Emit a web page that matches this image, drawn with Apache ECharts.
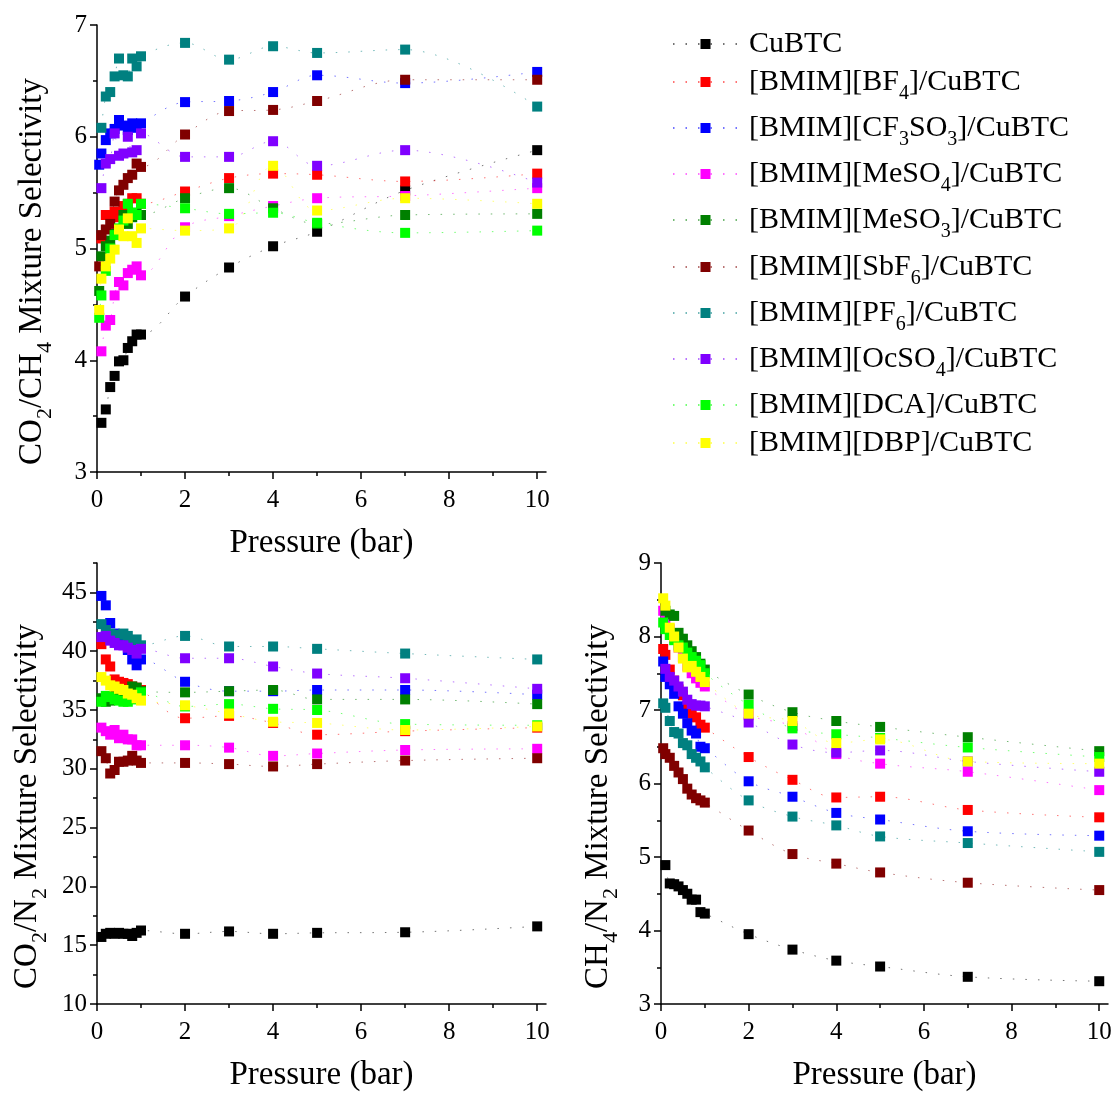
<!DOCTYPE html>
<html><head><meta charset="utf-8">
<script src="https://cdn.jsdelivr.net/npm/echarts@6/dist/echarts.min.js"></script>
<style>html,body{margin:0;padding:0;background:#fff}#c{width:1115px;height:1093px}</style>
</head><body><div id="c"></div><script>
// ---------------- DATA ----------------
const pressure = [0.05, 0.1, 0.2, 0.3, 0.4, 0.5, 0.6, 0.7, 0.8, 0.9, 1, 2, 3, 4, 5, 7, 10];
const seriesNames = ['CuBTC', '[BMIM][BF4]/CuBTC', '[BMIM][CF3SO3]/CuBTC', '[BMIM][MeSO4]/CuBTC', '[BMIM][MeSO3]/CuBTC',
  '[BMIM][SbF6]/CuBTC', '[BMIM][PF6]/CuBTC', '[BMIM][OcSO4]/CuBTC', '[BMIM][DCA]/CuBTC', '[BMIM][DBP]/CuBTC'];
const legendLabels = ['CuBTC', '[BMIM][BF{s|4}]/CuBTC', '[BMIM][CF{s|3}SO{s|3}]/CuBTC', '[BMIM][MeSO{s|4}]/CuBTC', '[BMIM][MeSO{s|3}]/CuBTC',
  '[BMIM][SbF{s|6}]/CuBTC', '[BMIM][PF{s|6}]/CuBTC', '[BMIM][OcSO{s|4}]/CuBTC', '[BMIM][DCA]/CuBTC', '[BMIM][DBP]/CuBTC'];

// CO2/CH4 selectivity
const co2ch4_CuBTC  = [null, 3.44, 3.56, 3.76, 3.86, 3.99, 4.00, 4.11, 4.17, 4.23, 4.23, 4.57, 4.83, 5.02, 5.15, 5.52, 5.88];
const co2ch4_BF4    = [null, 5.09, 5.30, 5.30, 5.33, 5.28, 5.38, 5.40, 5.45, 5.45, 5.40, 5.51, 5.63, 5.67, 5.66, 5.60, 5.67];
const co2ch4_CF3SO3 = [5.75, 5.85, 5.97, 6.03, 6.07, 6.15, 6.10, 6.06, 6.12, 6.08, 6.12, 6.31, 6.32, 6.40, 6.55, 6.48, 6.58];
const co2ch4_MeSO4  = [null, 4.08, 4.31, 4.36, 4.58, 4.70, 4.67, 4.78, 4.81, 4.84, 4.76, 5.19, 5.29, 5.38, 5.45, 5.47, 5.54];
const co2ch4_MeSO3  = [4.62, 4.93, 5.02, 5.07, 5.13, 5.17, 5.30, 5.22, 5.28, 5.32, 5.30, 5.45, 5.54, 5.36, 5.22, 5.30, 5.31];
const co2ch4_SbF6   = [4.84, 5.12, 5.17, 5.22, 5.42, 5.52, 5.57, 5.63, 5.66, 5.76, 5.73, 6.02, 6.23, 6.24, 6.32, 6.51, 6.51];
const co2ch4_PF6    = [null, 6.08, 6.36, 6.40, 6.54, 6.70, 6.55, 6.54, 6.70, 6.63, 6.72, 6.84, 6.69, 6.81, 6.75, 6.78, 6.27];
const co2ch4_OcSO4  = [null, 5.54, 5.76, 5.80, 6.03, 5.83, 5.85, 6.00, 5.86, 5.88, 6.03, 5.82, 5.82, 5.96, 5.74, 5.88, 5.59];
const co2ch4_DCA    = [4.38, 4.58, 4.80, 5.00, 5.12, 5.18, 5.25, 5.40, 5.32, 5.30, 5.40, 5.36, 5.31, 5.32, 5.23, 5.14, 5.16];
const co2ch4_DBP    = [4.45, 4.73, 4.84, 4.91, 4.99, 5.17, 5.11, 5.27, 5.11, 5.05, 5.18, 5.16, 5.18, 5.74, 5.34, 5.45, 5.40];

// CO2/N2 selectivity
const co2n2_CuBTC  = [null, 15.70, 15.97, 16.05, 15.97, 16.05, 15.97, 15.97, 15.78, 16.05, 16.25, 15.97, 16.17, 15.97, 16.05, 16.10, 16.60];
const co2n2_BF4    = [null, 40.6, 39.3, 38.7, 37.6, 37.4, 37.3, 37.2, 37.0, 36.9, 36.7, 34.3, 34.5, 33.9, 32.9, 33.2, 33.5];
const co2n2_CF3SO3 = [null, 44.7, 43.9, 42.4, 41.5, 41.0, 40.6, 40.1, 39.3, 38.8, 39.3, 37.4, 36.6, 36.6, 36.7, 36.7, 36.3];
const co2n2_MeSO4  = [null, 33.5, 33.2, 32.9, 33.3, 32.6, 32.9, 32.5, 32.5, 32.0, 32.0, 32.0, 31.8, 31.1, 31.3, 31.6, 31.7];
const co2n2_MeSO3  = [null, 36.0, 35.7, 35.8, 36.2, 36.3, 36.5, 36.7, 37.0, 36.9, 36.6, 36.5, 36.6, 36.7, 35.9, 35.9, 35.5];
const co2n2_SbF6   = [null, 31.5, 30.9, 29.6, 29.9, 30.6, 30.6, 30.7, 31.1, 30.7, 30.5, 30.5, 30.4, 30.2, 30.4, 30.7, 30.9];
const co2n2_PF6    = [null, 42.3, 41.8, 41.5, 41.3, 41.4, 41.5, 41.3, 40.9, 41.0, 40.5, 41.3, 40.4, 40.4, 40.2, 39.8, 39.3];
const co2n2_OcSO4  = [null, 41.2, 41.3, 40.9, 40.7, 40.5, 40.5, 40.3, 40.1, 39.8, 40.2, 39.4, 39.4, 38.7, 38.1, 37.7, 36.8];
const co2n2_DCA    = [null, 35.7, 36.2, 36.1, 35.9, 35.8, 35.7, 35.7, 35.9, 36.2, 36.5, 35.3, 35.5, 35.1, 35.0, 33.8, 33.7];
const co2n2_DBP    = [null, 37.8, 37.5, 37.1, 37.0, 36.8, 36.7, 36.4, 36.3, 36.0, 35.8, 35.4, 34.7, 34.0, 33.9, 33.3, 33.6];

// CH4/N2 selectivity
const ch4n2_CuBTC  = [null, 4.89, 4.64, 4.63, 4.60, 4.55, 4.50, 4.42, 4.42, 4.25, 4.23, 3.95, 3.74, 3.59, 3.51, 3.37, 3.31];
const ch4n2_BF4    = [7.83, 7.75, 7.55, 7.40, 7.28, 7.20, 7.05, 6.95, 6.90, 6.80, 6.76, 6.36, 6.05, 5.81, 5.82, 5.64, 5.54];
const ch4n2_CF3SO3 = [7.66, 7.45, 7.35, 7.22, 7.05, 6.95, 6.82, 6.72, 6.68, 6.50, 6.48, 6.03, 5.82, 5.60, 5.51, 5.35, 5.29];
const ch4n2_MeSO4  = [8.35, 8.22, 8.10, 7.98, 7.85, 7.72, 7.60, 7.50, 7.43, 7.37, 7.32, 6.93, 6.78, 6.40, 6.27, 6.16, 5.91];
const ch4n2_MeSO3  = [null, 8.35, 8.30, 8.28, 8.05, 7.97, 7.88, 7.80, 7.72, 7.63, 7.55, 7.21, 6.97, 6.85, 6.77, 6.63, 6.44];
const ch4n2_SbF6   = [6.48, 6.40, 6.35, 6.24, 6.15, 6.06, 5.93, 5.85, 5.80, 5.77, 5.74, 5.36, 5.04, 4.91, 4.79, 4.65, 4.55];
const ch4n2_PF6    = [7.09, 7.03, 6.85, 6.70, 6.68, 6.55, 6.52, 6.40, 6.35, 6.30, 6.22, 5.77, 5.55, 5.43, 5.28, 5.19, 5.07];
const ch4n2_OcSO4  = [null, 7.56, 7.45, 7.40, 7.32, 7.25, 7.14, 7.08, 7.06, 7.06, 7.05, 6.83, 6.53, 6.42, 6.45, 6.30, 6.16];
const ch4n2_DCA    = [8.19, 8.10, 8.02, 7.95, 7.88, 7.85, 7.78, 7.72, 7.67, 7.61, 7.50, 7.07, 6.75, 6.67, 6.62, 6.49, 6.36];
const ch4n2_DBP    = [8.52, 8.42, 8.12, 8.00, 7.85, 7.70, 7.58, 7.60, 7.52, 7.45, 7.38, 6.95, 6.85, 6.55, 6.60, 6.30, 6.27];

// tick labels
const xMajorTicks = [0, 2, 4, 6, 8, 10];
const xMinorTicks = [1, 3, 5, 7, 9];
const yMajor_co2ch4 = [3, 4, 5, 6, 7];
const yMinor_co2ch4 = [3.5, 4.5, 5.5, 6.5];
const yMajor_co2n2 = [10, 15, 20, 25, 30, 35, 40, 45];
const yMinor_co2n2 = [12.5, 17.5, 22.5, 27.5, 32.5, 37.5, 42.5, 47.5];
const yMajor_ch4n2 = [3, 4, 5, 6, 7, 8, 9];
const yMinor_ch4n2 = [3.5, 4.5, 5.5, 6.5, 7.5, 8.5];

// ---------------- STYLE / LAYOUT ----------------
const FONT = '"Liberation Serif", "Times New Roman", serif';
const colors = ['#000000', '#ff0000', '#0000ff', '#ff00ff', '#008000', '#800000', '#008080', '#8000ff', '#00ff00', '#ffff00'];
const legendRowCenters = [44, 82, 128, 174, 220, 267, 313, 359, 405, 443];

const panelData = [
  [co2ch4_CuBTC, co2ch4_BF4, co2ch4_CF3SO3, co2ch4_MeSO4, co2ch4_MeSO3, co2ch4_SbF6, co2ch4_PF6, co2ch4_OcSO4, co2ch4_DCA, co2ch4_DBP],
  [co2n2_CuBTC, co2n2_BF4, co2n2_CF3SO3, co2n2_MeSO4, co2n2_MeSO3, co2n2_SbF6, co2n2_PF6, co2n2_OcSO4, co2n2_DCA, co2n2_DBP],
  [ch4n2_CuBTC, ch4n2_BF4, ch4n2_CF3SO3, ch4n2_MeSO4, ch4n2_MeSO3, ch4n2_SbF6, ch4n2_PF6, ch4n2_OcSO4, ch4n2_DCA, ch4n2_DBP]
];

const legendSub = { s: { fontFamily: FONT, fontSize: 20, height: 6, verticalAlign: 'bottom', color: '#000' } };
const nameSub = { s: { fontFamily: FONT, fontSize: 22, height: 8, verticalAlign: 'bottom', color: '#000' } };
const nameStyle = { fontFamily: FONT, fontSize: 33, lineHeight: 33, color: '#000', rich: nameSub };

const panels = [
  { grid: { left: 97, top: 25, width: 449, height: 447 }, ymin: 3, ymax: 7, yMaj: yMajor_co2ch4, yMin: yMinor_co2ch4,
    yName: 'CO{s|2}/CH{s|4} Mixture Selectivity', yGap: 48 },
  { grid: { left: 97, top: 563, width: 449, height: 447 }, ymin: 10, ymax: 47.5, yMaj: yMajor_co2n2, yMin: yMinor_co2n2,
    yName: 'CO{s|2}/N{s|2} Mixture Selectivity', yGap: 53 },
  { grid: { left: 661, top: 563, width: 447, height: 447 }, ymin: 3, ymax: 9, yMaj: yMajor_ch4n2, yMin: yMinor_ch4n2,
    yName: 'CH{s|4}/N{s|2} Mixture Selectivity', yGap: 46 }
];

const grids = [], xAxes = [], yAxes = [], series = [];
const axisLine = { show: true, onZero: false, lineStyle: { color: '#000', width: 1.5 } };
const tickLabel = { fontFamily: FONT, fontSize: 25, color: '#000' };
panels.forEach((p, pi) => {
  grids.push(Object.assign({ containLabel: false }, p.grid));
  xAxes.push({
    type: 'value', gridIndex: pi, min: 0, max: 10.2, position: 'bottom',
    axisLine, splitLine: { show: false },
    axisTick: { show: true, inside: false, length: 7, customValues: xMajorTicks, lineStyle: { color: '#000', width: 1.5 } },
    axisLabel: Object.assign({ show: true, customValues: xMajorTicks, margin: 16 }, tickLabel),
    name: 'Pressure (bar)', nameLocation: 'middle', nameGap: 55, nameTextStyle: nameStyle
  });
  xAxes.push({
    type: 'value', gridIndex: pi, min: 0, max: 10.2, position: 'bottom', offset: 0,
    axisLine: { show: false, onZero: false }, splitLine: { show: false }, axisLabel: { show: false },
    axisTick: { show: true, inside: false, length: 4, customValues: xMinorTicks, lineStyle: { color: '#000', width: 1.5 } }
  });
  yAxes.push({
    type: 'value', gridIndex: pi, min: p.ymin, max: p.ymax, position: 'left',
    axisLine, splitLine: { show: false },
    axisTick: { show: true, inside: false, length: 7, customValues: p.yMaj, lineStyle: { color: '#000', width: 1.5 } },
    axisLabel: Object.assign({ show: true, customValues: p.yMaj, margin: 10 }, tickLabel),
    name: p.yName, nameLocation: 'middle', nameGap: p.yGap, nameRotate: 90,
    nameTextStyle: Object.assign({}, nameStyle, { padding: [0, 46, 0, 0] })
  });
  yAxes.push({
    type: 'value', gridIndex: pi, min: p.ymin, max: p.ymax, position: 'left', offset: 0,
    axisLine: { show: false, onZero: false }, splitLine: { show: false }, axisLabel: { show: false },
    axisTick: { show: true, inside: false, length: 4, customValues: p.yMin, lineStyle: { color: '#000', width: 1.5 } }
  });
  panelData[pi].forEach((vals, si) => {
    series.push({
      type: 'line', name: seriesNames[si], xAxisIndex: pi * 2, yAxisIndex: pi * 2,
      data: pressure.map((x, i) => vals[i] == null ? null : [x, vals[i]]).filter(d => d),
      symbol: 'rect', symbolSize: 10, smooth: 0.35,
      itemStyle: { color: colors[si], borderWidth: 0 },
      lineStyle: { color: colors[si], width: 1, type: [1.5, 11], opacity: 0.55 },
      emphasis: { disabled: true }, animation: false
    });
  });
});

const legends = seriesNames.map((n, i) => ({
  data: [n], orient: 'vertical', left: 672, top: legendRowCenters[i] - 15,
  itemWidth: 65, itemHeight: 12.5, padding: 0, selectedMode: false,
  formatter: () => legendLabels[i],
  textStyle: { fontFamily: FONT, fontSize: 30, lineHeight: 30, color: '#000', padding: [0, 0, 0, 6], rich: legendSub }
}));

const chart = echarts.init(document.getElementById('c'), null, { renderer: 'canvas' });
chart.setOption({
  backgroundColor: '#ffffff', animation: false,
  grid: grids, xAxis: xAxes, yAxis: yAxes, legend: legends, series
});
</script></body></html>
